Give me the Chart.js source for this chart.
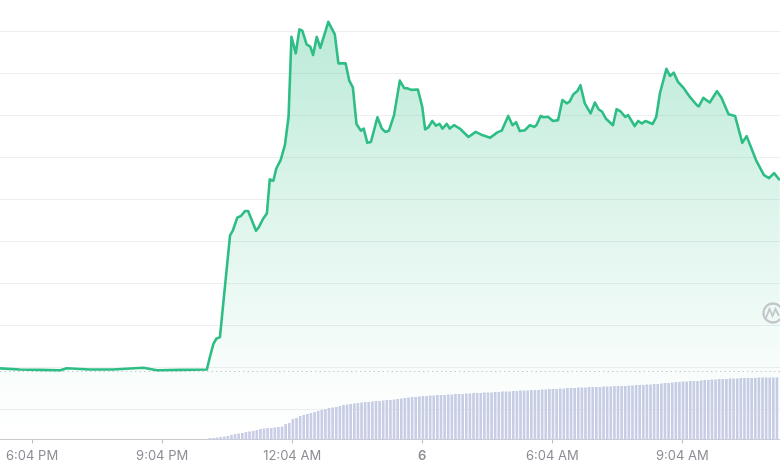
<!DOCTYPE html>
<html><head><meta charset="utf-8">
<script src="https://cdn.jsdelivr.net/npm/chart.js@4.4.1/dist/chart.umd.min.js"></script>
<style>html,body{margin:0;padding:0;background:#fff;overflow:hidden}</style>
</head><body>
<canvas id="c" width="780" height="470"></canvas>
<script>
// minutes since 5:20 PM
const priceTimes = [-5,27,55,83,92,124,156,198,217,249,286,
289,295,299,304,318,322,328,333,339,343,354,358,364,369,373,378,382,388,394,399,
403,409,414,418,424,429,433,438,443,454,463,468,478,483,488,493,499,503,508,513,
522,528,533,538,545,553,559,563,569,578,584,588,592,598,603,608,612,618,622,628,
636,648,658,665,678,688,694,703,709,714,719,726,733,739,742,748,752,758,765,772,
778,784,788,793,799,803,809,817,823,828,833,838,848,853,859,865,869,878,883,888,
893,903,908,913,922,927,932,938,945,955,964,967,973,982,992,998,1008,1017,1027,1033,
1046,1057,1064,1071,1079];
const priceValues = [0.198,0.195,0.194,0.193,0.198,0.195,0.195,0.199,0.193,0.194,0.195,
0.217,0.256,0.268,0.272,0.514,0.526,0.556,0.560,0.572,0.572,0.525,0.534,0.554,0.566,0.647,0.644,0.673,0.693,0.729,0.796,
0.986,0.947,1.004,1.001,0.968,0.963,0.943,0.986,0.960,1.022,0.992,0.923,0.923,0.882,0.866,0.779,0.763,0.768,0.734,0.736,
0.795,0.768,0.760,0.763,0.800,0.882,0.864,0.864,0.860,0.861,0.820,0.766,0.770,0.786,0.775,0.779,0.768,0.779,0.768,0.776,
0.768,0.748,0.760,0.754,0.746,0.759,0.763,0.798,0.776,0.783,0.762,0.764,0.776,0.772,0.776,0.798,0.795,0.796,0.786,0.788,
0.836,0.828,0.832,0.849,0.858,0.871,0.828,0.804,0.830,0.814,0.808,0.792,0.776,0.814,0.808,0.796,0.800,0.774,0.786,0.780,
0.786,0.779,0.796,0.852,0.910,0.893,0.901,0.879,0.866,0.842,0.824,0.821,0.841,0.830,0.857,0.842,0.802,0.798,0.734,0.750,
0.693,0.657,0.650,0.662,0.645];

const volumeStart = 290;   // first 5-minute volume bar (minutes since 5:20 PM)
const volumeStep = 5;
const volumeValues = [1,1,1.5,2,2.5,3,4,5,5.5,6,7,7.5,8,9,10,10.5,11,11,11.5,12,
12.5,15,16,20,21,23,24,25,26,27,28,29,30,31,31.5,32,33,34,34.5,35,
35.5,36,36.5,37,37,37.5,38,38,38.5,39,39,39.5,40,40.5,41,41.5,42,42,42.5,43,
43,43.5,43.5,44,44,44,44.5,44.5,45,45,45,45.5,45.5,46,46,46,46.5,46.5,46.5,47,
47,47.5,47.5,47.5,48,48,48.5,48.5,48.5,49,49,49,49.5,49.5,50,50,50,50.5,50.5,51,
51,51,51.5,51.5,51.5,52,52,52,52,52.5,52.5,52.5,53,53,53,53,53.5,53.5,54,54,
54,54.5,54.5,55,55,55.5,56,56,56.5,57,57,57.5,57.5,58,58,58,58.5,59,59,59.5,
59.5,60,60,60,60.5,60.5,60.5,61,61,61,61,61,61.5,61.5,61.5,61.5,61.5,61.5];

const tickTimes = [44,224,404,584,764,944];
const tickLabels = ['6:04 PM','9:04 PM','12:04 AM','6','6:04 AM','9:04 AM'];
const gridPrices = [0.1,0.2,0.3,0.4,0.5,0.6,0.7,0.8,0.9,1.0];
const openPrice = 0.1905;

const GREEN = 'rgb(46,190,133)';
const pricePoints = priceTimes.map((t,i)=>({x:t,y:priceValues[i]}));
const volumePoints = volumeValues.map((v,i)=>({x:volumeStart+volumeStep*i,y:v}));

const extras = {
  id:'extras',
  beforeDatasetsDraw(chart){
    const {ctx, chartArea:a, scales:{y}} = chart;
    const py = Math.round(y.getPixelForValue(openPrice))+0.5;
    ctx.save();
    ctx.strokeStyle='#c9ccd1'; ctx.lineWidth=1; ctx.setLineDash([1.5,3]);
    ctx.beginPath(); ctx.moveTo(a.left,py); ctx.lineTo(a.right,py); ctx.stroke();
    ctx.restore();
  },
  afterDraw(chart){
    const ctx = chart.ctx;
    ctx.save();
    ctx.strokeStyle='#c3c6cb'; ctx.lineWidth=2.3;
    ctx.beginPath(); ctx.arc(773,313,9.5,0,Math.PI*2); ctx.stroke();
    ctx.lineWidth=1.8;
    ctx.beginPath(); ctx.moveTo(766,318); ctx.lineTo(769.5,309); ctx.lineTo(772.5,316); ctx.lineTo(775.5,309); ctx.lineTo(779,316); ctx.stroke();
    ctx.restore();
  }
};

new Chart(document.getElementById('c'), {
  type:'line',
  data:{
    datasets:[
      {
        type:'line', data:pricePoints, yAxisID:'y', order:0,
        borderColor:GREEN, borderWidth:2.6, pointRadius:0, tension:0,
        borderJoinStyle:'round', fill:'start',
        backgroundColor:(c)=>{
          const a=c.chart.chartArea; if(!a) return 'rgba(46,190,133,0.15)';
          const g=c.chart.ctx.createLinearGradient(0,a.top,0,a.bottom);
          g.addColorStop(0,'rgba(46,190,133,0.34)');
          g.addColorStop(0.45,'rgba(46,190,133,0.17)');
          g.addColorStop(0.85,'rgba(46,190,133,0.03)');
          g.addColorStop(1,'rgba(46,190,133,0)');
          return g;
        }
      },
      {
        type:'bar', data:volumePoints, yAxisID:'yv', order:1,
        backgroundColor:'#c9cde6', barThickness:2, borderWidth:0
      }
    ]
  },
  options:{
    responsive:false, animation:false, devicePixelRatio:1,
    layout:{padding:{left:0,right:0,top:0,bottom:1}},
    plugins:{legend:{display:false},tooltip:{enabled:false}},
    scales:{
      x:{
        type:'linear', min:-0.4, max:1079.2, offset:false,
        afterBuildTicks:(s)=>{ s.ticks = tickTimes.map(v=>({value:v})); },
        grid:{drawOnChartArea:false, display:true, offset:false, tickLength:4, color:'#b9bcc2'},
        border:{display:true, color:'#c9ccd1', dash:[1.5,3], width:1},
        ticks:{
          autoSkip:false, maxRotation:0, padding:5, color:'#8b8e95',
          font:(c)=>({family:'Inter, "Liberation Sans", Arial, sans-serif', size:13,
            weight:(c.tick && c.tick.value===584)?'600':'normal'}),
          callback:(v)=>tickLabels[tickTimes.indexOf(v)]
        }
      },
      y:{
        type:'linear', display:true, min:0.02857, max:1.07381,
        afterBuildTicks:(s)=>{ s.ticks = gridPrices.map(v=>({value:v})); },
        grid:{color:'#eeeff1', lineWidth:1, drawTicks:false},
        border:{display:false},
        ticks:{display:false}
      },
      yv:{
        type:'linear', display:false, min:0, max:439
      }
    }
  },
  plugins:[extras]
});
</script>
</body></html>
